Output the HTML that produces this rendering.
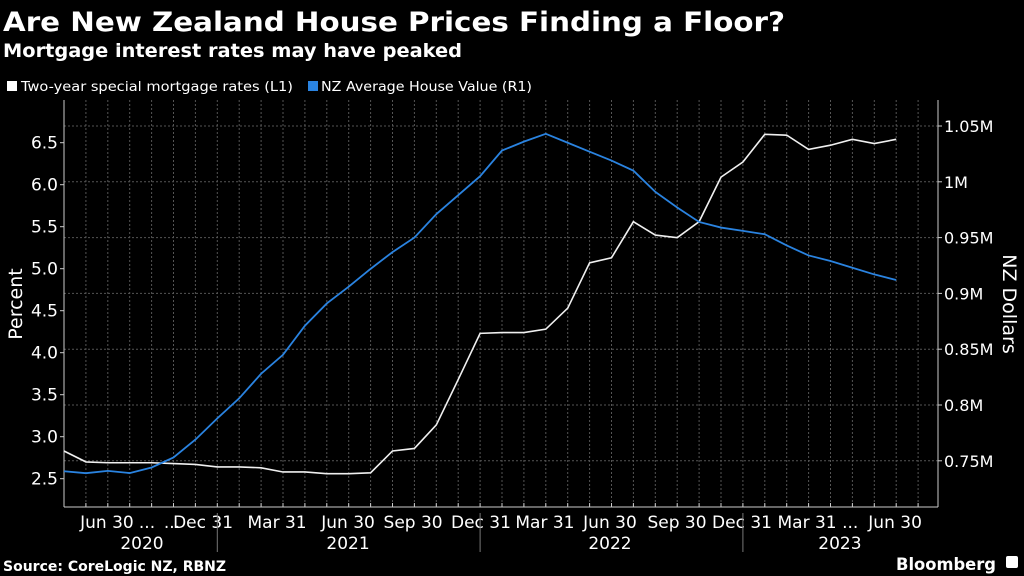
<!DOCTYPE html>
<html><head><meta charset="utf-8"><style>
html,body{margin:0;padding:0;background:#000;}
svg{display:block;font-family:"DejaVu Sans","Liberation Sans",sans-serif;}
</style></head><body>
<svg id="chart" width="1024" height="576" viewBox="0 0 1024 576">
<rect width="1024" height="576" fill="#000"/>
<text x="3" y="31" font-size="27" font-weight="bold" fill="#fff" textLength="782" lengthAdjust="spacingAndGlyphs">Are New Zealand House Prices Finding a Floor?</text>
<text x="3" y="57" font-size="19" font-weight="bold" fill="#fff" textLength="459" lengthAdjust="spacingAndGlyphs">Mortgage interest rates may have peaked</text>
<g>
<g><rect x="7" y="81" width="10" height="10" fill="#fff"/><text x="21" y="91" font-size="13" fill="#fff" textLength="272" lengthAdjust="spacingAndGlyphs">Two-year special mortgage rates (L1)</text></g>
<g><rect x="308" y="81" width="10" height="10" fill="#2a83e0"/><text x="321" y="91" font-size="13" fill="#fff" textLength="211" lengthAdjust="spacingAndGlyphs">NZ Average House Value (R1)</text></g>
</g>
<g id="grid"></g>
<g id="axes"></g>
<g id="series"></g>
<text transform="translate(22,304) rotate(-90)" text-anchor="middle" font-size="19" fill="#fff">Percent</text>
<text transform="translate(1003,304) rotate(90)" text-anchor="middle" font-size="19" fill="#fff">NZ Dollars</text>
<text x="3" y="571" font-size="14" font-weight="bold" fill="#fff">Source: CoreLogic NZ, RBNZ</text>
<text x="896" y="570" font-size="17" font-weight="bold" fill="#fff" textLength="100" lengthAdjust="spacingAndGlyphs">Bloomberg</text>
<rect x="1006" y="556" width="12" height="12" rx="2" fill="#fff"/>
</svg>
<script>
const rates = [2.83,2.70,2.69,2.69,2.69,2.68,2.67,2.64,2.64,2.63,2.58,2.58,2.56,2.56,2.57,2.83,2.86,3.14,3.68,4.23,4.24,4.24,4.28,4.53,5.07,5.13,5.56,5.40,5.37,5.56,6.09,6.27,6.60,6.59,6.42,6.47,6.54,6.49,6.54];
const houseValues = [0.7406,0.7389,0.741,0.739,0.744,0.753,0.769,0.788,0.806,0.828,0.845,0.871,0.891,0.906,0.922,0.937,0.950,0.971,0.988,1.005,1.028,1.036,1.043,1.035,1.027,1.019,1.010,0.991,0.977,0.964,0.959,0.956,0.953,0.943,0.934,0.929,0.923,0.917,0.912];
const leftTicks = [2.5,3.0,3.5,4.0,4.5,5.0,5.5,6.0,6.5];
const rightTicks = [0.75,0.80,0.85,0.90,0.95,1.00,1.05];
const rightTickLabels = ["0.75M","0.8M","0.85M","0.9M","0.95M","1M","1.05M"];
const xLabels = ["Jun 30","...","...","Dec 31","Mar 31","Jun 30","Sep 30","Dec 31","Mar 31","Jun 30","Sep 30","Dec 31","Mar 31","...","Jun 30"];
const xLabelMonths = [1.96,3.79,4.93,6.35,9.73,12.97,15.94,19.04,21.96,24.93,27.99,30.96,33.93,35.9,37.95];
const years = ["2020","2021","2022","2023"];
const yearCenters = [3.56,12.97,24.93,35.43];
const yearBoundaries = [7,19,31];

const NS="http://www.w3.org/2000/svg";
const X0=64, X1=938, YT=100, YB=507, DX=21.9;
const xM = i => X0 + i*DX;
const yL = v => 478.7 - (v-2.5)*84;
const yR = m => 126 + (1.05-m)/0.05*55.8;
function mk(tag, attrs, parent){const e=document.createElementNS(NS,tag);for(const k in attrs)e.setAttribute(k,attrs[k]);parent.appendChild(e);return e;}
const grid=document.getElementById('grid'), axes=document.getElementById('axes'), series=document.getElementById('series');

for(let i=1;X0+i*DX<X1-2;i++){
  const g=mk('line',{x1:xM(i),x2:xM(i),y1:YT,y2:YB,stroke:'#555','stroke-dasharray':'2,2','stroke-width':1},grid);
  
  
  mk('line',{x1:xM(i),x2:xM(i),y1:YB-4,y2:YB,stroke:'#ccc'},axes);
}
rightTicks.forEach((m,k)=>{
  const g=mk('line',{x1:X0,x2:X1,y1:yR(m),y2:yR(m),stroke:'#555','stroke-dasharray':'2,2','stroke-width':1},grid);
  
  
  mk('line',{x1:X1,x2:X1+4,y1:yR(m),y2:yR(m),stroke:'#ccc'},axes);
  const t=mk('text',{x:X1+6,y:yR(m)+6,'font-size':16,fill:'#fff'},axes);
  t.textContent=rightTickLabels[k];
  
  
});
leftTicks.forEach(v=>{
  mk('line',{x1:X0-4,x2:X0,y1:yL(v),y2:yL(v),stroke:'#ccc'},axes);
  const t=mk('text',{x:X0-6,y:yL(v)+6,'font-size':17,fill:'#fff','text-anchor':'end'},axes);
  t.textContent=v.toFixed(1);
  
  
});
mk('line',{x1:X0,x2:X0,y1:YT,y2:YB,stroke:'#ccc'},axes);
mk('line',{x1:X1,x2:X1,y1:YT,y2:YB,stroke:'#ccc'},axes);
mk('line',{x1:X0,x2:X1,y1:YB,y2:YB,stroke:'#ccc'},axes);
xLabels.forEach((s,k)=>{
  const t=mk('text',{x:xM(xLabelMonths[k]),y:528,'font-size':17,fill:'#fff','text-anchor':'middle'},axes);
  t.textContent=s;
  
  
});
years.forEach((s,k)=>{
  const t=mk('text',{x:xM(yearCenters[k]),y:549,'font-size':17,fill:'#fff','text-anchor':'middle'},axes);
  t.textContent=s;
  
  
});
yearBoundaries.forEach(i=>{mk('line',{x1:xM(i),x2:xM(i),y1:513,y2:552,stroke:'#777'},axes);});

const pw=mk('polyline',{points:rates.map((v,i)=>xM(i)+','+yL(v)).join(' '),fill:'none',stroke:'#f0f0f0','stroke-width':1.6},series);


const pb=mk('polyline',{points:houseValues.map((m,i)=>xM(i)+','+yR(m)).join(' '),fill:'none',stroke:'#2a83e0','stroke-width':1.8},series);


</script>
</body></html>
